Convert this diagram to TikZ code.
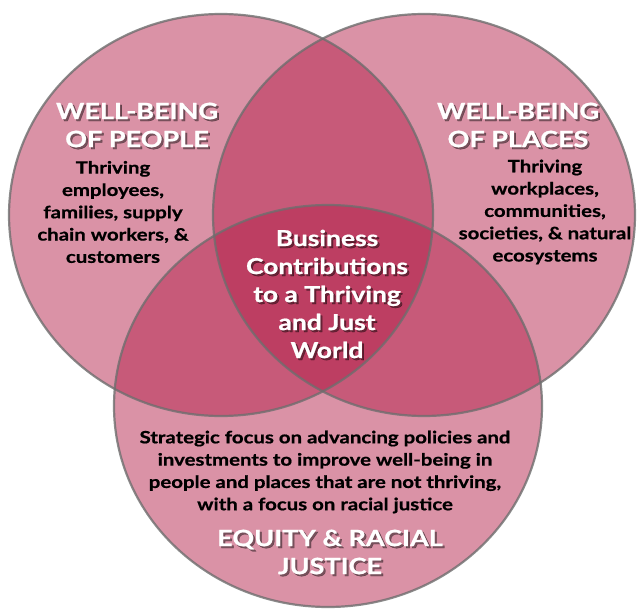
\documentclass[tikz,border=0pt]{standalone}
\usepackage{fontspec}
\setmainfont{Lato}
\newfontfamily\gill[FakeStretch=1.2,FakeBold=0.8]{Lato}
\definecolor{venn}{RGB}{180,33,75}
\definecolor{rand}{RGB}{110,110,110}
\tikzset{
	kreis/.style={fill=venn,fill opacity=0.49},
	linie/.style={draw=rand,line width=2.2pt,draw opacity=0.8},
	kopf/.style={text=white,align=center,font=\gill\fontsize{22.5}{28}\selectfont\bfseries},
	schatten/.style={text=black,text opacity=0.45,align=center,font=\gill\fontsize{22.5}{28}\selectfont\bfseries},
	mitte/.style={text=white,align=center,font=\gill\fontsize{22}{28}\selectfont\bfseries},
	mitteschatten/.style={text=black,text opacity=0.45,align=center,font=\gill\fontsize{22}{28}\selectfont\bfseries},
	rumpf/.style={text=black,align=center,font=\gill\fontsize{17}{22.3}\selectfont\bfseries}
}
\begin{document}
\begin{tikzpicture}[x=1pt,y=-1pt]
\useasboundingbox[fill=white] (0,0) rectangle (638,610);
\def\blase#1#2#3#4{
	\path[kreis] (#2,#3) ellipse[x radius=#4pt,y radius=201pt];
	\coordinate (#1) at (#2,#3);
}
\blase{people}{221}{215}{212}
\blase{places}{424}{215}{211}
\blase{equity}{328}{406}{214}
\draw[linie] (people) ellipse[x radius=212pt,y radius=201pt];
\draw[linie] (places) ellipse[x radius=211pt,y radius=201pt];
\draw[linie] (equity) ellipse[x radius=214pt,y radius=201pt];
\def\titel#1#2#3#4{
	\node[schatten] (#1s) at (#2+2,#3+2) {#4};
	\node[kopf] (#1) at (#2,#3) {#4};
}
\titel{peopletitle}{137}{125}{WELL-BEING\\OF PEOPLE}
\titel{placestitle}{518}{125}{WELL-BEING\\OF PLACES}
\titel{equitytitle}{330}{552}{EQUITY \& RACIAL\\JUSTICE}
\node[mitteschatten] (worlds) at (329,296) {Business\\Contributions\\to a Thriving\\and Just\\World};
\node[mitte] (world) at (327,294) {Business\\Contributions\\to a Thriving\\and Just\\World};
\node[rumpf] (peopletext) at (113,212) {Thriving\\employees,\\families, supply\\chain workers, \&\\customers};
\node[rumpf] (placestext) at (545,212) {Thriving\\workplaces,\\communities,\\societies, \& natural\\ecosystems};
\node[rumpf] (equitytext) at (325,472) {Strategic focus on advancing policies and\\investments to improve well-being in\\people and places that are not thriving,\\with a focus on racial justice};
\end{tikzpicture}
\end{document}
